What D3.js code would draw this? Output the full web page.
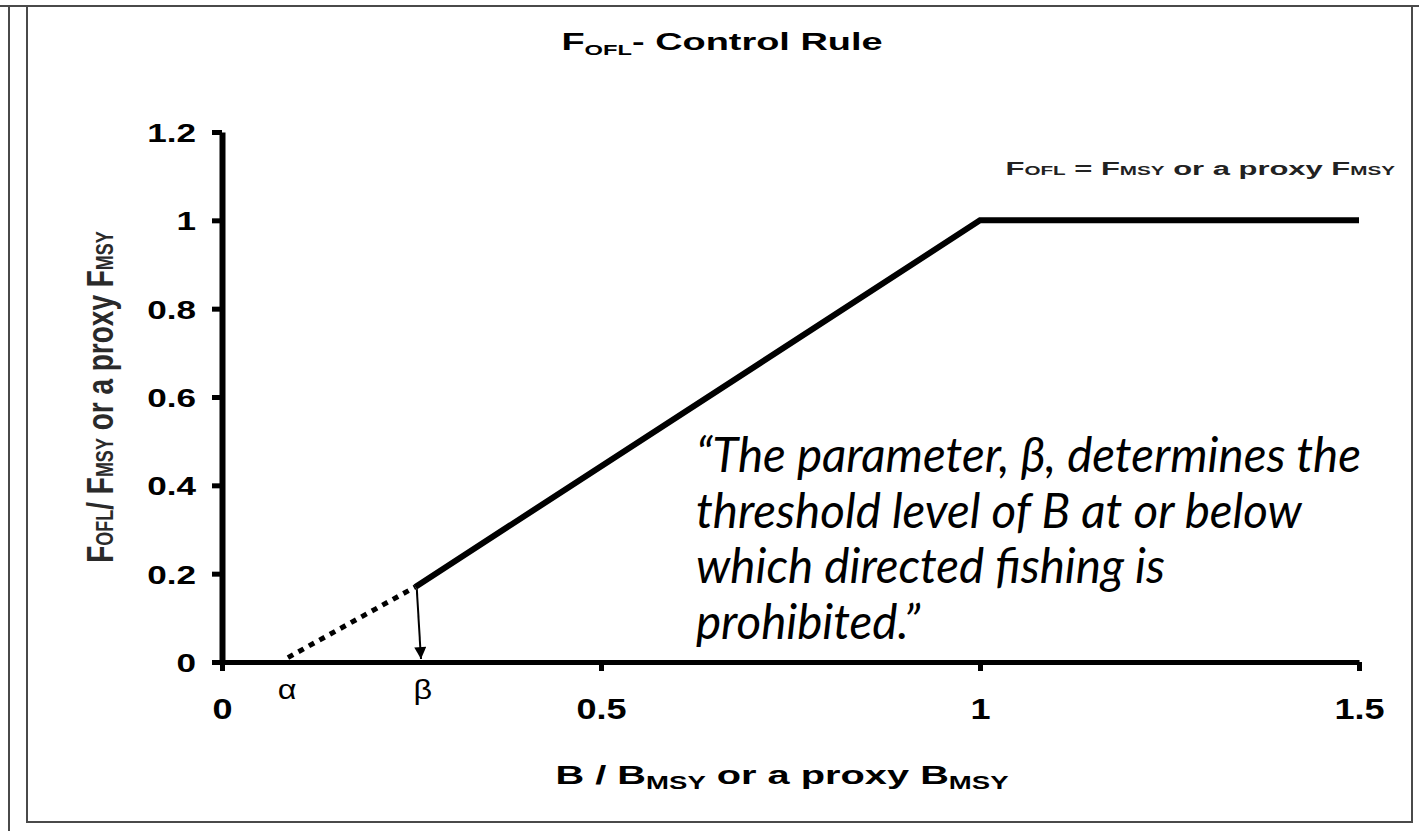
<!DOCTYPE html>
<html><head><meta charset="utf-8">
<script src="https://cdn.jsdelivr.net/npm/d3@7"></script>
<style>
body{margin:0;background:#fff;}
svg{display:block;}
</style></head>
<body>
<svg id="c" width="1419" height="831"></svg>
<script>
// ---- data ----
const xTicks = [0, 0.5, 1, 1.5];
const xTickLabels = ["0", "0.5", "1", "1.5"];
const yTicks = [0, 0.2, 0.4, 0.6, 0.8, 1, 1.2];
const yTickLabels = ["0", "0.2", "0.4", "0.6", "0.8", "1", "1.2"];
const solidX = [0.255, 1, 1.5];
const solidY = [0.17, 1, 1];
const dottedX = [0.087, 0.255];
const dottedY = [0.01, 0.17];
const arrowX = [0.257, 0.2625];
const arrowY = [0.165, 0];
const greekLabels = ["α", "β"];
const greekX = [0.086, 0.265];
const quoteLines = ["“The parameter, β, determines the",
                    "threshold level of B at or below",
                    "which directed fishing is",
                    "prohibited.”"];

const svg = d3.select("#c");
const x = d3.scaleLinear().domain([0, 1.5]).range([222, 1359]);
const y = d3.scaleLinear().domain([0, 1.2]).range([662, 132]);
const F = "'Liberation Sans', Arial, sans-serif";

// frame
const fr = svg.append("g").attr("stroke", "#4a4a4a").attr("stroke-width", 2).attr("fill", "none");
fr.append("line").attr("x1", 0).attr("x2", 1419).attr("y1", 6).attr("y2", 6);
fr.append("line").attr("x1", 9).attr("x2", 9).attr("y1", 6).attr("y2", 831);
fr.append("rect").attr("x", 27).attr("y", 6).attr("width", 1385).attr("height", 816);

// axes
const SX = 1.2, SY = 1.35;
const xAxis = d3.axisBottom(x).tickValues(xTicks).tickFormat((d, i) => xTickLabels[i])
  .tickSize(9).tickSizeOuter(0).tickPadding(27);
const yAxis = d3.axisLeft(y).tickValues(yTicks).tickFormat((d, i) => yTickLabels[i])
  .tickSize(10).tickSizeOuter(0);

const gx = svg.append("g").attr("transform", `translate(0,${y(0)})`).call(xAxis);
const gy = svg.append("g").attr("transform", `translate(${x(0)},0)`).call(yAxis);
gx.select(".domain").attr("stroke", "#000").attr("stroke-width", 5);
gy.select(".domain").attr("stroke", "#000").attr("stroke-width", 6);
gx.selectAll(".tick line").attr("stroke", "#000").attr("stroke-width", 5);
gy.selectAll(".tick line").attr("stroke", "#000").attr("stroke-width", 5);
gx.selectAll(".tick text").attr("font-family", F).attr("font-weight", "bold")
  .attr("font-size", 30).attr("fill", "#000").attr("transform", `scale(${SX},1)`);
gy.selectAll(".tick text").attr("font-family", F).attr("font-weight", "bold")
  .attr("font-size", 26).attr("fill", "#000").attr("transform", `scale(${SY},1)`)
  .attr("x", -26 / SY).attr("dy", "0.36em");

// lines
const line = d3.line().x(d => x(d[0])).y(d => y(d[1]));
svg.append("path").datum(solidX.map((v, i) => [v, solidY[i]]))
  .attr("d", line).attr("fill", "none").attr("stroke", "#000").attr("stroke-width", 6)
  .attr("stroke-linejoin", "miter");
svg.append("path").datum(dottedX.map((v, i) => [v, dottedY[i]]))
  .attr("d", line).attr("fill", "none").attr("stroke", "#000").attr("stroke-width", 5)
  .attr("stroke-dasharray", "6,6");

// arrow
svg.append("defs").append("marker").attr("id", "ah")
  .attr("viewBox", "0 0 10 10").attr("refX", 10).attr("refY", 5)
  .attr("markerWidth", 7).attr("markerHeight", 6).attr("markerUnits", "strokeWidth")
  .attr("orient", "auto")
  .append("path").attr("d", "M0,0 L10,5 L0,10 Z").attr("fill", "#000");
svg.append("line")
  .attr("x1", x(arrowX[0])).attr("y1", y(arrowY[0]))
  .attr("x2", x(arrowX[1])).attr("y2", y(arrowY[1]) - 3)
  .attr("stroke", "#000").attr("stroke-width", 2).attr("marker-end", "url(#ah)");

// stretched text helper
function stext(px, py, sx, sy, anchor, size, weight, fill, rot) {
  const g = svg.append("g").attr("transform",
    `translate(${px},${py})` + (rot ? ` rotate(${rot})` : "") + ` scale(${sx},${sy})`);
  return g.append("text").attr("text-anchor", anchor).attr("font-family", F)
    .attr("font-size", size).attr("font-weight", weight).attr("fill", fill);
}
function rich(sel, parts) {
  parts.forEach(p => {
    const t = sel.append("tspan").text(p[0]);
    if (p[1]) t.attr("font-size", p[1]);
    if (p[2]) t.attr("dy", p[2]);
  });
}

// greek labels
greekLabels.forEach((g, i) => {
  stext(x(greekX[i]), 699, 1.2, 1, "middle", 27, "normal", "#000").text(g);
});

// title
rich(stext(722, 50, 1.58, 1, "middle", 24, "bold", "#000"),
  [["F"], ["OFL", 15, 5], ["- Control Rule", null, -5]]);

// x label
rich(stext(782, 784, 1.53, 1, "middle", 26, "bold", "#000"),
  [["B / B"], ["MSY", 18, 5], [" or a proxy B", null, -5], ["MSY", 18, 5]]);

// y label (rotated; stretch acts across the glyphs)
rich(stext(113, 397, 1, 1.35, "middle", 28, "bold", "#2a2a2a", -90),
  [["F"], ["OFL", 18], ["/ F"], ["MSY", 18], [" or a proxy F"], ["MSY", 18]]);

// annotation
rich(stext(1395, 175, 1.72, 1, "end", 18, "bold", "#222"),
  [["F"], ["OFL", 12], [" = F"], ["MSY", 12], [" or a proxy F"], ["MSY", 12]]);

// quote
const qt = svg.append("g").selectAll("text").data(quoteLines).join("text")
  .attr("x", 696).attr("y", (d, i) => 472 + i * 55.5)
  .attr("font-family", "Lato, 'Open Sans', sans-serif").attr("font-style", "italic")
  .attr("font-size", 36).attr("fill", "#000").text(d => d);
const w0 = qt.nodes()[0].getComputedTextLength();
if (w0 > 0) qt.attr("font-size", 36 * 665 / w0);
</script>
</body></html>
